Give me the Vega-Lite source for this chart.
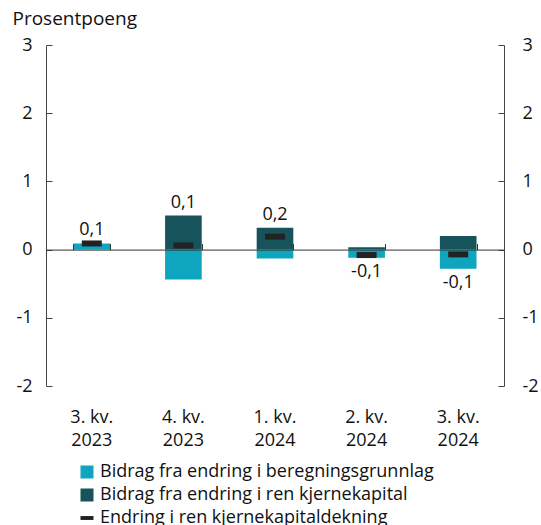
{
  "$schema": "https://vega.github.io/schema/vega-lite/v6.json",
  "width": 458,
  "height": 341,
  "autosize": {"type": "none"},
  "padding": {"left": 46, "top": 45, "right": 37, "bottom": 139},
  "config": {
    "font": "Open Sans",
    "view": {"stroke": null},
    "locale": {"number": {"decimal": ",", "thousands": " ", "grouping": [3], "currency": ["", " kr"], "minus": "-"}},
    "axis": {"labelFont": "Open Sans", "labelFontSize": 18, "labelColor": "#111", "domainColor": "#444", "tickColor": "#444", "grid": false, "titleFont": "Open Sans"}
  },
  "data": {"values": [
    {"kv": "3. kv. 2023", "beregning": 0.09, "kjerne": 0.0, "endring": 0.09},
    {"kv": "4. kv. 2023", "beregning": -0.44, "kjerne": 0.5, "endring": 0.06},
    {"kv": "1. kv. 2024", "beregning": -0.13, "kjerne": 0.32, "endring": 0.19},
    {"kv": "2. kv. 2024", "beregning": -0.12, "kjerne": 0.035, "endring": -0.08},
    {"kv": "3. kv. 2024", "beregning": -0.28, "kjerne": 0.2, "endring": -0.07}
  ]},
  "resolve": {"axis": {"x": "independent", "y": "independent"}},
  "layer": [
    {
      "transform": [{"fold": ["beregning", "kjerne"], "as": ["serie", "verdi"]}],
      "mark": {"type": "bar"},
      "encoding": {
        "x": {"field": "kv", "type": "nominal", "sort": null, "title": null,
          "scale": {"paddingInner": 0.6, "paddingOuter": 0.3},
          "axis": {"orient": "bottom", "domain": false, "ticks": false, "labelAngle": 0, "labelPadding": 22, "labelLineHeight": 23,
            "labelExpr": "[slice(datum.label, 0, 6), slice(datum.label, 7)]"}},
        "y": {"field": "verdi", "type": "quantitative", "stack": "zero",
          "scale": {"domain": [-2, 3], "nice": false},
          "axis": {"orient": "left", "values": [-2, -1, 0, 1, 2, 3], "tickSize": -6, "labelPadding": 20, "domain": true,
            "title": "Prosentpoeng", "titleAngle": 0, "titleAlign": "left", "titleBaseline": "alphabetic", "titleX": -34, "titleY": -21,
            "titleFontSize": 19, "titleFontWeight": "normal", "titleColor": "#111"}},
        "color": {"field": "serie", "type": "nominal",
          "scale": {"domain": ["beregning", "kjerne", "endring"], "range": ["#0ea5be", "#17535b", "#222222"]},
          "legend": {"orient": "none", "legendX": 32, "legendY": 418, "direction": "vertical", "title": null,
            "labelFontSize": 18, "labelFont": "Open Sans", "labelColor": "#111", "labelLimit": 0, "symbolSize": 169, "labelOffset": 4, "rowPadding": 5, "padding": 0,
            "symbolStrokeWidth": 0,
            "labelExpr": "datum.value == 'beregning' ? 'Bidrag fra endring i beregningsgrunnlag' : datum.value == 'kjerne' ? 'Bidrag fra endring i ren kjernekapital' : 'Endring i ren kjernekapitaldekning'",
            "encode": {"symbols": {"update": {"shape": {"signal": "datum.value == 'endring' ? 'M-1,-0.3H1V0.3H-1Z' : 'square'"}}}}}}
      }
    },
    {
      "mark": {"type": "point", "shape": "M-1,-0.3H1V0.3H-1Z", "size": 400, "filled": true, "opacity": 1},
      "encoding": {
        "x": {"field": "kv", "type": "nominal", "sort": null,
          "axis": {"orient": "top", "offset": -204.6, "labels": false, "domain": true, "ticks": true, "tickBand": "extent", "tickSize": 6, "title": null, "zindex": 1, "domainColor": "#333", "tickColor": "#333"}},
        "y": {"field": "endring", "type": "quantitative",
          "axis": {"orient": "right", "values": [-2, -1, 0, 1, 2, 3], "tickSize": -6, "labelPadding": 24, "title": null, "domain": true}},
        "color": {"datum": "endring"}
      }
    },
    {
      "transform": [
        {"filter": "datum.endring >= 0"},
        {"calculate": "max(datum.beregning, 0) + max(datum.kjerne, 0)", "as": "topp"}
      ],
      "mark": {"type": "text", "baseline": "alphabetic", "dy": -8, "fontSize": 18, "color": "#111"},
      "encoding": {
        "x": {"field": "kv", "type": "nominal", "sort": null, "axis": null},
        "y": {"field": "topp", "type": "quantitative", "axis": null},
        "text": {"field": "endring", "type": "quantitative", "format": ".1f"}
      }
    },
    {
      "transform": [
        {"filter": "datum.endring < 0"},
        {"calculate": "min(datum.beregning, 0) + min(datum.kjerne, 0)", "as": "bunn"}
      ],
      "mark": {"type": "text", "baseline": "top", "dy": 5, "fontSize": 18, "color": "#111"},
      "encoding": {
        "x": {"field": "kv", "type": "nominal", "sort": null, "axis": null},
        "y": {"field": "bunn", "type": "quantitative", "axis": null},
        "text": {"field": "endring", "type": "quantitative", "format": ".1f"}
      }
    }
  ]
}
